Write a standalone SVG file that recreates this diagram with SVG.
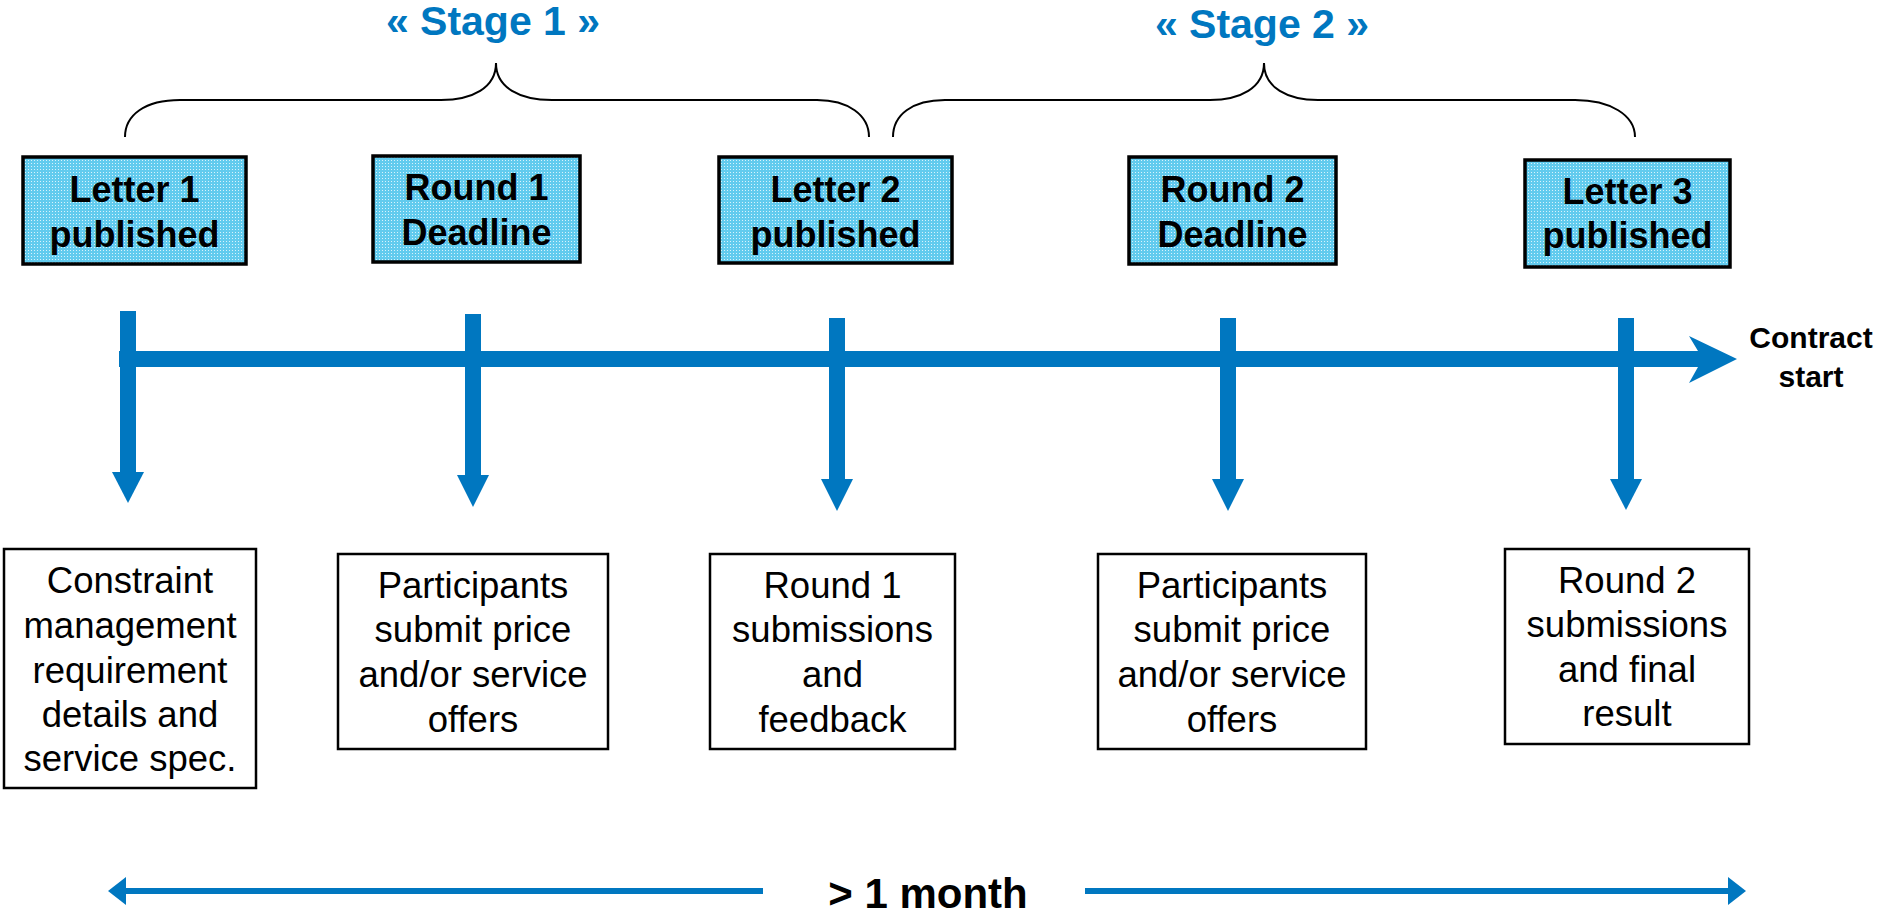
<svg xmlns="http://www.w3.org/2000/svg" width="1881" height="916" viewBox="0 0 1881 916">
<style>
.hdr{fill:#80d3ef;stroke:#000;stroke-width:3.5}
.box{fill:#fff;stroke:#000;stroke-width:2.5}
.ht{font-family:"Liberation Sans",Arial,sans-serif;font-weight:bold;font-size:36px;fill:#000;text-anchor:middle}
.bt{font-family:"Liberation Sans",Arial,sans-serif;font-size:36.5px;fill:#000;text-anchor:middle}
.stage{font-family:"Liberation Sans",Arial,sans-serif;font-weight:bold;font-size:41px;fill:#0077c0;text-anchor:middle}
.lbl{font-family:"Liberation Sans",Arial,sans-serif;font-weight:bold;fill:#000;text-anchor:middle}
.brace{fill:none;stroke:#000;stroke-width:2}
.blue{fill:#0077c0}
.thin{stroke:#0077c0;stroke-width:6;fill:none}
</style>
<defs>
<pattern id="dots" width="3" height="3" patternUnits="userSpaceOnUse">
<rect width="3" height="3" fill="#62cbee"/>
<rect x="1" y="1" width="1" height="1" fill="#d8f3fc"/>
</pattern>
</defs>
<rect width="1881" height="916" fill="#fff"/>

<g id="stage1">
<path class="brace" d="M125,137 C125,115 145,100 180,100 L441,100 C472,100 496,88 496,63 C496,88 520,100 552,100 L817,100 C848,100 869,115 869,137"/>
<text class="stage" x="493" y="35">« Stage 1 »</text>
</g>
<g id="stage2">
<path class="brace" d="M893,137 C893,115 912,100 945,100 L1210,100 C1240,100 1264,88 1264,63 C1264,88 1288,100 1318,100 L1575,100 C1610,100 1635,115 1635,137"/>
<text class="stage" x="1262" y="38">« Stage 2 »</text>
</g>

<g id="connectors">
<rect class="blue" x="119" y="351" width="1580" height="16"/>
<polygon class="blue" points="1689,336 1737,359 1689,383 1698,367 1698,351"/>
<g id="drops">
<rect class="blue" x="120" y="311" width="16" height="162"/>
<polygon class="blue" points="112,472 144,472 128,503"/>
<rect class="blue" x="465" y="314" width="16" height="162"/>
<polygon class="blue" points="457,475 489,475 473,507"/>
<rect class="blue" x="829" y="318" width="16" height="162"/>
<polygon class="blue" points="821,479 853,479 837,511"/>
<rect class="blue" x="1220" y="318" width="16" height="162"/>
<polygon class="blue" points="1212,479 1244,479 1228,511"/>
<rect class="blue" x="1618" y="318" width="16" height="162"/>
<polygon class="blue" points="1610,479 1642,479 1626,510"/>
</g>
<line class="thin" x1="763" y1="891" x2="122" y2="891"/>
<polygon class="blue" points="108,891 126,877 126,905"/>
<line class="thin" x1="1085" y1="891" x2="1732" y2="891"/>
<polygon class="blue" points="1746,891 1728,877 1728,905"/>
</g>

<g id="contract-start">
<text class="lbl" font-size="30" x="1811" y="348">Contract</text>
<text class="lbl" font-size="30" x="1811" y="387">start</text>
</g>
<g id="duration">
<text class="lbl" font-size="42" x="928" y="908">&gt; 1 month</text>
</g>

<g id="letter1">
<rect class="hdr" x="23" y="157" width="223" height="107" fill="url(#dots)" style="fill:url(#dots)"/>
<text class="ht" x="134.5" y="202">Letter 1</text>
<text class="ht" x="134.5" y="247">published</text>
</g>
<g id="round1">
<rect class="hdr" x="373" y="156" width="207" height="106" style="fill:url(#dots)"/>
<text class="ht" x="476.5" y="200">Round 1</text>
<text class="ht" x="476.5" y="245">Deadline</text>
</g>
<g id="letter2">
<rect class="hdr" x="719" y="157" width="233" height="106" style="fill:url(#dots)"/>
<text class="ht" x="835.5" y="202">Letter 2</text>
<text class="ht" x="835.5" y="247">published</text>
</g>
<g id="round2">
<rect class="hdr" x="1129" y="157" width="207" height="107" style="fill:url(#dots)"/>
<text class="ht" x="1232.5" y="202">Round 2</text>
<text class="ht" x="1232.5" y="247">Deadline</text>
</g>
<g id="letter3">
<rect class="hdr" x="1525" y="160" width="205" height="107" style="fill:url(#dots)"/>
<text class="ht" x="1627.5" y="204">Letter 3</text>
<text class="ht" x="1627.5" y="248">published</text>
</g>

<g id="desc1">
<rect class="box" x="4" y="549" width="252" height="239"/>
<text class="bt" x="130" y="593">Constraint</text>
<text class="bt" x="130" y="638">management</text>
<text class="bt" x="130" y="683">requirement</text>
<text class="bt" x="130" y="727">details and</text>
<text class="bt" x="130" y="771">service spec.</text>
</g>
<g id="desc2">
<rect class="box" x="338" y="554" width="270" height="195"/>
<text class="bt" x="473" y="598">Participants</text>
<text class="bt" x="473" y="642">submit price</text>
<text class="bt" x="473" y="687">and/or service</text>
<text class="bt" x="473" y="732">offers</text>
</g>
<g id="desc3">
<rect class="box" x="710" y="554" width="245" height="195"/>
<text class="bt" x="832.5" y="598">Round 1</text>
<text class="bt" x="832.5" y="642">submissions</text>
<text class="bt" x="832.5" y="687">and</text>
<text class="bt" x="832.5" y="732">feedback</text>
</g>
<g id="desc4">
<rect class="box" x="1098" y="554" width="268" height="195"/>
<text class="bt" x="1232" y="598">Participants</text>
<text class="bt" x="1232" y="642">submit price</text>
<text class="bt" x="1232" y="687">and/or service</text>
<text class="bt" x="1232" y="732">offers</text>
</g>
<g id="desc5">
<rect class="box" x="1505" y="549" width="244" height="195"/>
<text class="bt" x="1627" y="593">Round 2</text>
<text class="bt" x="1627" y="637">submissions</text>
<text class="bt" x="1627" y="682">and final</text>
<text class="bt" x="1627" y="726">result</text>
</g>
</svg>
